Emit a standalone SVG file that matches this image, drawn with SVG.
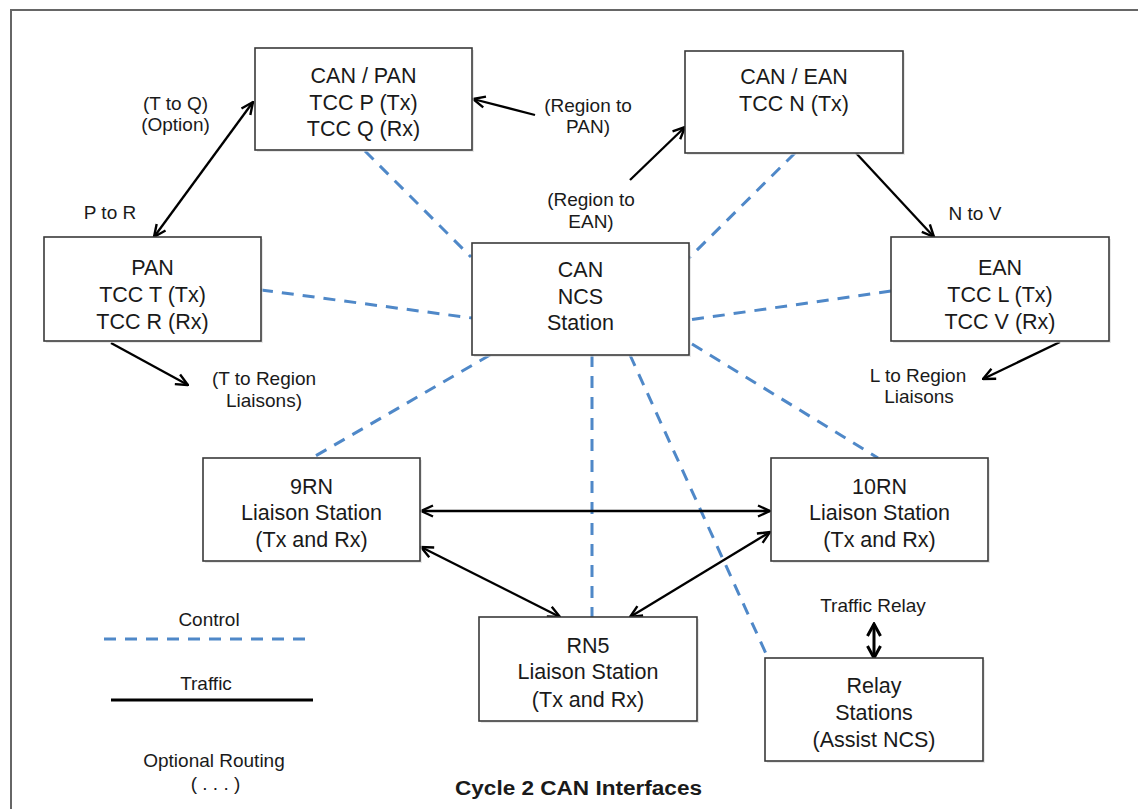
<svg xmlns="http://www.w3.org/2000/svg" width="1138" height="809" viewBox="0 0 1138 809">
  <style>
    .box { fill: #ffffff; stroke: #3a3a3a; stroke-width: 1.6; }
    .shadow { fill: #d9d9d9; opacity: 0.6; }
    .nt { font-family: "Liberation Sans", Arial, sans-serif; font-size: 21.5px; fill: #1a1a1a; text-anchor: middle; }
    .lb { font-family: "Liberation Sans", Arial, sans-serif; font-size: 19px; fill: #1a1a1a; text-anchor: middle; }
    .ttl { font-family: "Liberation Sans", Arial, sans-serif; font-size: 20px; font-weight: bold; fill: #1a1a1a; text-anchor: middle; }
    .ctrl { stroke: #4f88c8; stroke-width: 3; stroke-dasharray: 12 9; fill: none; }
    .traf { stroke: #000; stroke-width: 2.3; fill: none; }
  </style>
  <defs>
    <marker id="arr" viewBox="0 0 14 14" refX="13" refY="7" markerWidth="14" markerHeight="14" markerUnits="userSpaceOnUse" orient="auto-start-reverse">
      <path d="M1,1.5 L13,7 L1,12.5" fill="none" stroke="#000" stroke-width="2.4"/>
    </marker>
    <marker id="arrB" viewBox="0 0 16 16" refX="14" refY="8" markerWidth="16" markerHeight="16" markerUnits="userSpaceOnUse" orient="auto-start-reverse">
      <path d="M2,1.5 L14,8 L2,14.5" fill="none" stroke="#000" stroke-width="3"/>
    </marker>
  </defs>

  <rect width="1138" height="809" fill="#ffffff"/>
  <!-- outer frame (right and bottom run off the picture) -->
  <path d="M11,820 L11,10 L1150,10" fill="none" stroke="#666666" stroke-width="2"/>

  <g id="connectors">
    <g id="control">
      <line class="ctrl" x1="365" y1="151" x2="471" y2="257"/>
      <line class="ctrl" x1="795" y1="153" x2="689" y2="258"/>
      <line class="ctrl" x1="261" y1="290" x2="472" y2="318"/>
      <line class="ctrl" x1="891" y1="291" x2="689" y2="320"/>
      <line class="ctrl" x1="490" y1="355" x2="312" y2="458"/>
      <line class="ctrl" x1="592" y1="355" x2="592" y2="617"/>
      <line class="ctrl" x1="630" y1="355" x2="768" y2="658"/>
      <line class="ctrl" x1="692" y1="344" x2="878" y2="458"/>
    </g>
    <g id="traffic">
      <line class="traf" x1="154" y1="237" x2="253" y2="102" marker-start="url(#arr)" marker-end="url(#arr)"/>
      <line class="traf" x1="535" y1="115" x2="473" y2="99" marker-end="url(#arr)"/>
      <line class="traf" x1="630" y1="180" x2="685" y2="127" marker-end="url(#arr)"/>
      <line class="traf" x1="856" y1="153" x2="934" y2="237" marker-end="url(#arr)"/>
      <line class="traf" x1="111" y1="343" x2="188" y2="385" marker-end="url(#arr)"/>
      <line class="traf" x1="1060" y1="342" x2="983" y2="379" marker-end="url(#arr)"/>
      <line class="traf" x1="421" y1="511" x2="770" y2="511" marker-start="url(#arr)" marker-end="url(#arr)"/>
      <line class="traf" x1="421" y1="547" x2="560" y2="617" marker-start="url(#arr)" marker-end="url(#arr)"/>
      <line class="traf" x1="770" y1="532" x2="630" y2="617" marker-start="url(#arr)" marker-end="url(#arr)"/>
      <line x1="874" y1="624" x2="874" y2="658" stroke="#000" stroke-width="3" marker-start="url(#arrB)" marker-end="url(#arrB)"/>
    </g>
  </g>

  <g id="can-pan">
    <rect class="shadow" x="257" y="50" width="217" height="102"/>
    <rect class="box" x="255" y="48" width="217" height="102"/>
    <text class="nt" x="363.5" y="83">CAN / PAN</text>
    <text class="nt" x="363.5" y="110">TCC P (Tx)</text>
    <text class="nt" x="363.5" y="136">TCC Q (Rx)</text>
  </g>
  <g id="can-ean">
    <rect class="shadow" x="687" y="53" width="218" height="102"/>
    <rect class="box" x="685" y="51" width="218" height="102"/>
    <text class="nt" x="794" y="84">CAN / EAN</text>
    <text class="nt" x="794" y="111">TCC N (Tx)</text>
  </g>
  <g id="pan">
    <rect class="shadow" x="46" y="239" width="217" height="104"/>
    <rect class="box" x="44" y="237" width="217" height="104"/>
    <text class="nt" x="152.5" y="275">PAN</text>
    <text class="nt" x="152.5" y="302">TCC T (Tx)</text>
    <text class="nt" x="152.5" y="329">TCC R (Rx)</text>
  </g>
  <g id="can-ncs">
    <rect class="shadow" x="474" y="245" width="217" height="112"/>
    <rect class="box" x="472" y="243" width="217" height="112"/>
    <text class="nt" x="580.5" y="277">CAN</text>
    <text class="nt" x="580.5" y="303.5">NCS</text>
    <text class="nt" x="580.5" y="330">Station</text>
  </g>
  <g id="ean">
    <rect class="shadow" x="893" y="239" width="218" height="104"/>
    <rect class="box" x="891" y="237" width="218" height="104"/>
    <text class="nt" x="1000" y="275">EAN</text>
    <text class="nt" x="1000" y="302">TCC L (Tx)</text>
    <text class="nt" x="1000" y="329">TCC V (Rx)</text>
  </g>
  <g id="rn9">
    <rect class="shadow" x="205" y="460" width="217" height="103"/>
    <rect class="box" x="203" y="458" width="217" height="103"/>
    <text class="nt" x="311.5" y="493.5">9RN</text>
    <text class="nt" x="311.5" y="520">Liaison Station</text>
    <text class="nt" x="311.5" y="547">(Tx and Rx)</text>
  </g>
  <g id="rn10">
    <rect class="shadow" x="773" y="460" width="217" height="103"/>
    <rect class="box" x="771" y="458" width="217" height="103"/>
    <text class="nt" x="879.5" y="494">10RN</text>
    <text class="nt" x="879.5" y="520">Liaison Station</text>
    <text class="nt" x="879.5" y="547">(Tx and Rx)</text>
  </g>
  <g id="rn5">
    <rect class="shadow" x="481" y="619" width="218" height="104"/>
    <rect class="box" x="479" y="617" width="218" height="104"/>
    <text class="nt" x="588" y="652.5">RN5</text>
    <text class="nt" x="588" y="679">Liaison Station</text>
    <text class="nt" x="588" y="706.5">(Tx and Rx)</text>
  </g>
  <g id="relay">
    <rect class="shadow" x="767" y="660" width="218" height="103"/>
    <rect class="box" x="765" y="658" width="218" height="103"/>
    <text class="nt" x="874" y="693">Relay</text>
    <text class="nt" x="874" y="720">Stations</text>
    <text class="nt" x="874" y="746.5">(Assist NCS)</text>
  </g>

  <g id="labels">
    <text class="lb" x="175.5" y="110">(T to Q)</text>
    <text class="lb" x="175.5" y="131">(Option)</text>
    <text class="lb" x="110" y="219">P to R</text>
    <text class="lb" x="588" y="112">(Region to</text>
    <text class="lb" x="588" y="133">PAN)</text>
    <text class="lb" x="591" y="206">(Region to</text>
    <text class="lb" x="591" y="228">EAN)</text>
    <text class="lb" x="975" y="220">N to V</text>
    <text class="lb" x="264" y="385">(T to Region</text>
    <text class="lb" x="264" y="407">Liaisons)</text>
    <text class="lb" x="918" y="382">L to Region</text>
    <text class="lb" x="919" y="403">Liaisons</text>
    <text class="lb" x="873" y="612">Traffic Relay</text>
  </g>

  <g id="legend">
    <text class="lb" x="209" y="626">Control</text>
    <line class="ctrl" x1="104" y1="639" x2="312" y2="639"/>
    <text class="lb" x="206" y="690">Traffic</text>
    <line x1="111" y1="700" x2="313" y2="700" stroke="#000" stroke-width="3"/>
    <text class="lb" x="214" y="767">Optional Routing</text>
    <text class="lb" x="215.5" y="790">( . . . )</text>
  </g>

  <text class="ttl" x="578.5" y="795" textLength="247" lengthAdjust="spacingAndGlyphs">Cycle 2 CAN Interfaces</text>
</svg>
